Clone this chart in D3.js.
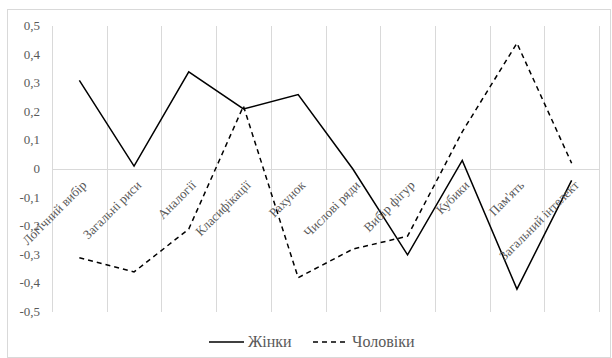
<!DOCTYPE html>
<html>
<head>
<meta charset="utf-8">
<script src="https://cdn.jsdelivr.net/npm/d3@7"></script>
<style>
	body { margin: 0; background: #fff; }
</style>
</head>
<body>
<svg id="chart"></svg>
<script>
// Categories and series values
const categories = ["Логічний вибір", "Загальні риси", "Аналогії", "Класифікації", "Рахунок",
	"Числові ряди", "Вибір фігур", "Кубики", "Пам'ять", "Загальний інтелект"];
const women = [0.31, 0.01, 0.34, 0.21, 0.26, 0.0, -0.30, 0.03, -0.42, -0.04];
const men = [-0.31, -0.36, -0.21, 0.22, -0.38, -0.28, -0.235, 0.13, 0.44, 0.02];
const yTicks = [0.5, 0.4, 0.3, 0.2, 0.1, 0, -0.1, -0.2, -0.3, -0.4, -0.5];
const seriesNames = ["Жінки", "Чоловіки"];

const FONT = "'Liberation Serif', 'Times New Roman', serif";
const TEXT_COLOR = "#595959";

const svgWidth = 612;
const svgHeight = 358;
const margin = {top: 26, right: 13, bottom: 46, left: 52};
const width = svgWidth - margin.left - margin.right;
const height = svgHeight - margin.top - margin.bottom;

const svg = d3.select('#chart')
	.attr("width", svgWidth)
	.attr("height", svgHeight)
	.style("font-family", FONT);

// Chart border
svg.append("rect")
	.attr("x", 7.5).attr("y", 9.5)
	.attr("width", 603).attr("height", 348)
	.style("fill", "none")
	.style("stroke", "#d9d9d9");

const g = svg.append("g")
	.attr("transform", "translate(" + margin.left + "," + margin.top + ")");

const x = d3.scaleBand().domain(categories).range([0, width]).padding(0);
const y = d3.scaleLinear().domain([-0.5, 0.5]).range([height, 0]);
const cx = d => x(d) + x.bandwidth() / 2;

// Vertical gridlines at category boundaries
g.selectAll(".vgrid")
	.data(categories.concat([null]))
	.enter().append("line")
	.attr("class", "vgrid")
	.attr("x1", (d, i) => Math.round(i * x.bandwidth()) + 0.5)
	.attr("x2", (d, i) => Math.round(i * x.bandwidth()) + 0.5)
	.attr("y1", 0)
	.attr("y2", height)
	.style("stroke", "#d9d9d9")
	.style("stroke-width", 1);

// Zero axis line
g.append("line")
	.attr("x1", 0).attr("x2", width)
	.attr("y1", Math.round(y(0)) + 0.5).attr("y2", Math.round(y(0)) + 0.5)
	.style("stroke", "#d9d9d9");

// Y tick labels
const fmt = v => v === 0 ? "0" : d3.format(".1f")(v).replace(".", ",").replace("−", "-");
g.selectAll(".ytick")
	.data(yTicks)
	.enter().append("text")
	.attr("class", "ytick")
	.attr("x", -12)
	.attr("y", d => y(d) + 4)
	.attr("text-anchor", "end")
	.style("font-family", FONT)
	.style("font-size", "13px")
	.style("fill", TEXT_COLOR)
	.text(fmt);

// Series lines
const line = d3.line()
	.x((d, i) => cx(categories[i]))
	.y(d => y(d));

g.append("path")
	.datum(women)
	.attr("d", line)
	.style("fill", "none")
	.style("stroke", "#000")
	.style("stroke-width", 1.5);

g.append("path")
	.datum(men)
	.attr("d", line)
	.style("fill", "none")
	.style("stroke", "#000")
	.style("stroke-width", 1.5)
	.style("stroke-dasharray", "5,4");

// Category labels rotated next to zero axis
g.selectAll(".xlabel")
	.data(categories)
	.enter().append("text")
	.attr("class", "xlabel")
	.attr("text-anchor", "end")
	.attr("transform", d => "translate(" + (cx(d) + 8) + "," + (y(0) + 17) + ") rotate(-45)")
	.style("font-family", FONT)
	.style("font-size", "13px")
	.style("fill", TEXT_COLOR)
	.text(d => d);

// Legend
const legend = svg.append("g").attr("transform", "translate(209,342)");
const legendItems = [
	{name: seriesNames[0], x: 0, dash: null},
	{name: seriesNames[1], x: 104, dash: "5,4"}
];
legendItems.forEach(it => {
	legend.append("line")
		.attr("x1", it.x).attr("x2", it.x + 35)
		.attr("y1", 0).attr("y2", 0)
		.style("stroke", "#000")
		.style("stroke-width", 1.5)
		.style("stroke-dasharray", it.dash);
	legend.append("text")
		.attr("x", it.x + 39)
		.attr("y", 5)
		.style("font-family", FONT)
		.style("font-size", "16px")
		.style("fill", TEXT_COLOR)
		.text(it.name);
});
</script>
</body>
</html>
